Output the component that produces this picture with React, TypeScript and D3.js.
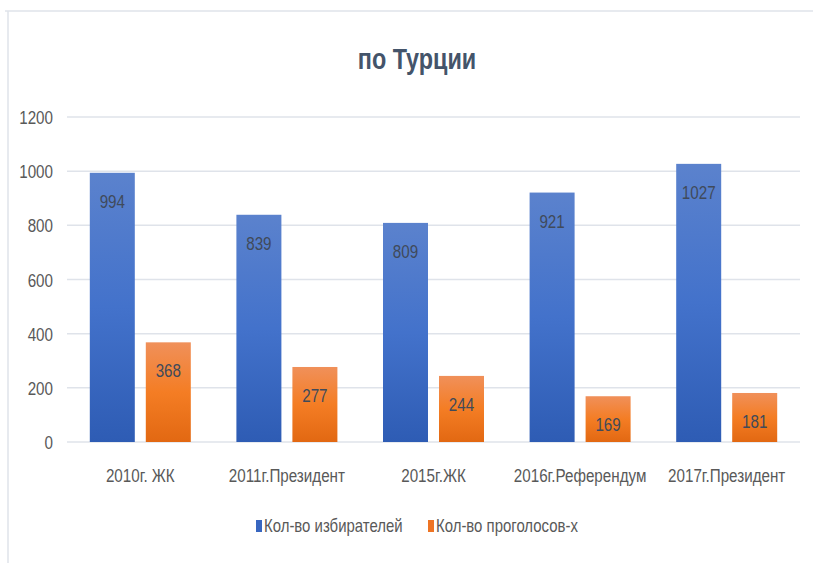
import React from "react";
import * as d3 from "d3";

const categories = ["2010г. ЖК", "2011г.Президент", "2015г.ЖК", "2016г.Референдум", "2017г.Президент"];
const voters = [994, 839, 809, 921, 1027];
const voted = [368, 277, 244, 169, 181];
const seriesNames = ["Кол-во избирателей", "Кол-во проголосов-х"];
const yTicks = [0, 200, 400, 600, 800, 1000, 1200];

const FONT = "'Liberation Sans', Arial, sans-serif";
const SX = 0.8; // reference text is condensed (Calibri-like)

// condensed text: squeeze horizontally around its anchor point
function T(props: {
  x: number;
  y: number;
  size: number;
  fill: string;
  anchor?: string;
  bold?: boolean;
  sx?: number;
  children: React.ReactNode;
}) {
  const { x, y, size, fill, anchor = "start", bold, sx = SX, children } = props;
  return (
    <text
      transform={`translate(${x},${y}) scale(${sx},1)`}
      textAnchor={anchor}
      fontFamily={FONT}
      fontSize={size}
      fontWeight={bold ? "bold" : "normal"}
      fill={fill}
    >
      {children}
    </text>
  );
}

export default function App() {
  const width = 813;
  const height = 563;

  const x = d3.scaleBand().domain(categories).range([67, 800]);
  const y = d3.scaleLinear().domain([0, 1200]).range([442, 117]);
  const barW = 45;
  const offset = 28;

  const series = [
    { name: seriesNames[0], values: voters, fill: "url(#gBlue)", dx: -offset, swatch: "#3866c0", lx: 256 },
    { name: seriesNames[1], values: voted, fill: "url(#gOrange)", dx: offset, swatch: "#ee7424", lx: 428 },
  ];

  return (
    <svg
      width={width}
      height={height}
      style={{ position: "absolute", left: 0, top: 0, background: "#fff" }}
    >
      <defs>
        <linearGradient id="gBlue" x1="0" y1="0" x2="0" y2="1">
          <stop offset="0%" stopColor="#5b82cd" />
          <stop offset="50%" stopColor="#4372cb" />
          <stop offset="100%" stopColor="#2e5cb4" />
        </linearGradient>
        <linearGradient id="gOrange" x1="0" y1="0" x2="0" y2="1">
          <stop offset="0%" stopColor="#f0905a" />
          <stop offset="50%" stopColor="#f47d24" />
          <stop offset="100%" stopColor="#e26812" />
        </linearGradient>
      </defs>

      {/* chart frame */}
      <line x1={5} x2={813} y1={11} y2={11} stroke="#dfe3ea" strokeWidth={1.5} />
      <line x1={8} x2={8} y1={11} y2={563} stroke="#dfe3ea" strokeWidth={1.5} />

      <T x={417} y={69} size={30} bold anchor="middle" fill="#44546a" sx={0.78}>
        по Турции
      </T>

      {yTicks.map((t) => (
        <g key={t}>
          <line x1={67} x2={800} y1={y(t)} y2={y(t)} stroke="#dfe3ea" strokeWidth={1.5} />
          <T x={53} y={y(t) + 7} size={19} anchor="end" fill="#595959">
            {t}
          </T>
        </g>
      ))}

      {series.map((s) =>
        categories.map((c, i) => {
          const cx = (x(c) ?? 0) + x.bandwidth() / 2 + s.dx;
          return (
            <g key={s.name + c}>
              <rect
                x={cx - barW / 2}
                y={y(s.values[i])}
                width={barW}
                height={y(0) - y(s.values[i])}
                fill={s.fill}
              />
              <T x={cx} y={y(s.values[i]) + 35} size={19} anchor="middle" fill="#404a5a">
                {s.values[i]}
              </T>
            </g>
          );
        })
      )}

      {categories.map((c) => (
        <T key={c} x={(x(c) ?? 0) + x.bandwidth() / 2} y={482} size={19} anchor="middle" fill="#595959">
          {c}
        </T>
      ))}

      {series.map((s) => (
        <g key={s.name}>
          <rect x={s.lx} y={520} width={6} height={12} fill={s.swatch} />
          <T x={s.lx + 8} y={532} size={18} sx={0.83} fill="#595959">
            {s.name}
          </T>
        </g>
      ))}
    </svg>
  );
}
